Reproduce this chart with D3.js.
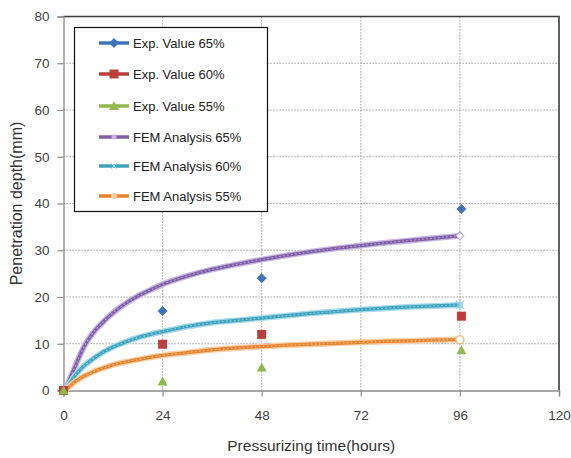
<!DOCTYPE html>
<html><head><meta charset="utf-8">
<script src="https://cdn.jsdelivr.net/npm/d3@7"></script>
<style>body{margin:0;background:#fff}svg{display:block}</style>
</head><body>
<script>
// ---- data ----
const xTicks = [0, 24, 48, 72, 96, 120];
const yTicks = [0, 10, 20, 30, 40, 50, 60, 70, 80];
const expTimes = [0, 24, 48, 96];
const exp65 = [0, 17, 24, 38.8];
const exp60 = [0, 9.9, 12, 15.9];
const exp55 = [0, 1.9, 4.9, 8.6];
const femTimes = [0, 0.5, 1, 2, 3, 4, 5, 6, 8, 10, 12, 15, 18, 21, 24, 30, 36, 42, 48, 54, 60, 66, 72, 78, 84, 90, 96];
const fem65 = [0, 0, 1.3, 3.5, 5.5, 7.6, 9.4, 10.9, 13.2, 15.0, 16.6, 18.6, 20.2, 21.5, 22.7, 24.5, 25.9, 27.0, 28.0, 28.9, 29.7, 30.4, 31.0, 31.6, 32.1, 32.6, 33.1];
const fem60 = [0, 0, 0.8, 2.2, 3.4, 4.4, 5.3, 6.0, 7.3, 8.4, 9.3, 10.4, 11.3, 12.0, 12.6, 13.7, 14.5, 15.0, 15.5, 16.0, 16.5, 16.9, 17.3, 17.6, 17.9, 18.1, 18.3];
const fem55 = [0, 0, 0.5, 1.3, 2.0, 2.6, 3.1, 3.5, 4.3, 4.9, 5.5, 6.1, 6.6, 7.1, 7.5, 8.1, 8.7, 9.1, 9.4, 9.7, 9.9, 10.1, 10.3, 10.5, 10.6, 10.8, 10.9];
const legendLabels = ["Exp. Value 65%", "Exp. Value 60%", "Exp. Value 55%", "FEM Analysis 65%", "FEM Analysis 60%", "FEM Analysis 55%"];

const W = 571, H = 458;
const svg = d3.select("body").append("svg").attr("width", W).attr("height", H);
const x = d3.scaleLinear().domain([0, 120]).range([63.5, 559]);
const y = d3.scaleLinear().domain([0, 80]).range([390.5, 16.5]);
const font = "'Liberation Sans', Arial, sans-serif";

// gridlines
svg.append("g").selectAll("line").data(yTicks.filter(d => d > 0 && d < 80)).join("line")
  .attr("x1", x(0)).attr("x2", x(120)).attr("y1", d => y(d)).attr("y2", d => y(d))
  .attr("stroke", "#8a8a8a").attr("stroke-width", 1).attr("stroke-dasharray", "1.2,1.8");
svg.append("g").selectAll("line").data(xTicks.filter(d => d > 0 && d < 120)).join("line")
  .attr("y1", y(0)).attr("y2", y(80)).attr("x1", d => x(d)).attr("x2", d => x(d))
  .attr("stroke", "#8a8a8a").attr("stroke-width", 1).attr("stroke-dasharray", "1.2,1.8");

// border top/right
svg.append("path").attr("d", `M${x(0)},${y(80)}H${x(120)}V${y(0)}`)
  .attr("fill", "none").attr("stroke", "#3a3a3a").attr("stroke-width", 1.6);

// axes
const xAxis = svg.append("g").attr("transform", `translate(0,${y(0)})`)
  .call(d3.axisBottom(x).tickValues(xTicks).tickSize(6).tickPadding(14));
const yAxis = svg.append("g").attr("transform", `translate(${x(0)},0)`)
  .call(d3.axisLeft(y).tickValues(yTicks).tickSize(6).tickPadding(8));
[xAxis, yAxis].forEach(a => {
  a.select(".domain").attr("stroke", "#8a8a8a").attr("stroke-width", 1.3);
  a.selectAll(".tick line").attr("stroke", "#8a8a8a").attr("stroke-width", 1.2);
  a.selectAll(".tick text").attr("fill", "#404040").style("font-family", font).style("font-size", "13.5px");
});

// axis titles
svg.append("text").attr("x", (x(0) + x(120)) / 2).attr("y", 451).attr("text-anchor", "middle")
  .style("font-family", font).style("font-size", "15.5px").attr("fill", "#333").text("Pressurizing time(hours)");
svg.append("text").attr("transform", `translate(22,${(y(0) + y(80)) / 2}) rotate(-90)`).attr("text-anchor", "middle")
  .style("font-family", font).style("font-size", "16px").attr("fill", "#333").text("Penetration depth(mm)");

// FEM curves
const fem = [
  {vals: fem65, color: "#7f5fa6", light: "#c9b6e0", end: "diamond"},
  {vals: fem60, color: "#3fa3bd", light: "#a6dcea", end: "star"},
  {vals: fem55, color: "#e8832e", light: "#f9cfa5", end: "circle"}
];
const line = d3.line().x(d => x(d[0])).y(d => y(d[1])).curve(d3.curveMonotoneX);
fem.forEach(s => {
  const pts = femTimes.map((t, i) => [t, s.vals[i]]);
  svg.append("path").attr("d", line(pts)).attr("fill", "none").attr("stroke", s.light).attr("stroke-width", 6).attr("stroke-linecap", "round");
  svg.append("path").attr("d", line(pts)).attr("fill", "none").attr("stroke", s.color).attr("stroke-width", 3.2);
  svg.append("path").attr("d", line(pts)).attr("fill", "none").attr("stroke", s.light).attr("stroke-width", 1.2).attr("stroke-dasharray", "1.5,2.5").attr("opacity", 0.8);
  const last = pts[pts.length - 1];
  drawMarker(svg, s.end, x(last[0]), y(last[1]), s.color, true);
});

function drawMarker(g, type, cx, cy, color, outline) {
  if (type === "diamond") {
    const sz = outline ? 4 : 5;
    g.append("path").attr("d", `M${cx},${cy - sz}L${cx + sz},${cy}L${cx},${cy + sz}L${cx - sz},${cy}Z`)
      .attr("fill", outline ? "#fff" : color).attr("stroke", outline ? d3.color(color).brighter(0.8) : "none").attr("stroke-width", 1);
  } else if (type === "square") {
    g.append("rect").attr("x", cx - 4.5).attr("y", cy - 4.5).attr("width", 9).attr("height", 9).attr("fill", color);
  } else if (type === "triangle") {
    g.append("path").attr("d", `M${cx},${cy - 5}L${cx + 5},${cy + 4}L${cx - 5},${cy + 4}Z`).attr("fill", color);
  } else if (type === "circle") {
    g.append("circle").attr("cx", cx).attr("cy", cy).attr("r", 4).attr("fill", "#fff").attr("stroke", "#f2b27a").attr("stroke-width", 1.2);
  } else if (type === "star") {
    g.append("path").attr("d", `M${cx - 4},${cy - 4}L${cx + 4},${cy + 4}M${cx + 4},${cy - 4}L${cx - 4},${cy + 4}M${cx},${cy - 5}V${cy + 5}`)
      .attr("stroke", "#8fd3e6").attr("stroke-width", 1.2);
  }
}

// Exp markers
const exps = [
  {vals: exp65, color: "#3f74b8", type: "diamond"},
  {vals: exp60, color: "#bd3d3a", type: "square"},
  {vals: exp55, color: "#93b84f", type: "triangle"}
];
exps.forEach(s => {
  expTimes.forEach((t, i) => drawMarker(svg, s.type, x(t) + (t === 96 ? 1.5 : 0), y(s.vals[i]), s.color, false));
});

// legend
const lg = svg.append("g");
lg.append("rect").attr("x", 74.5).attr("y", 27.5).attr("width", 193).attr("height", 184)
  .attr("fill", "#fff").attr("stroke", "#111").attr("stroke-width", 1.2);
const legendItems = [
  {color: "#3f74b8", type: "diamond"},
  {color: "#bd3d3a", type: "square"},
  {color: "#93b84f", type: "triangle"},
  {color: "#7f5fa6", type: "ldiamond"},
  {color: "#3fa3bd", type: "lstar"},
  {color: "#e8832e", type: "lcircle"}
];
const ly = [43, 74, 106, 137, 166, 196];
legendItems.forEach((it, i) => {
  const yy = ly[i];
  lg.append("line").attr("x1", 99).attr("x2", 129).attr("y1", yy).attr("y2", yy).attr("stroke", it.color).attr("stroke-width", 3.5);
  const cx = 114;
  if (it.type === "diamond") drawMarker(lg, "diamond", cx, yy, it.color, false);
  else if (it.type === "square") lg.append("rect").attr("x", cx - 4.5).attr("y", yy - 4.5).attr("width", 9).attr("height", 9).attr("fill", it.color);
  else if (it.type === "triangle") drawMarker(lg, "triangle", cx, yy, it.color, false);
  else if (it.type === "ldiamond") lg.append("path").attr("d", `M${cx},${yy - 3}L${cx + 3},${yy}L${cx},${yy + 3}L${cx - 3},${yy}Z`).attr("fill", "#c9b6e0");
  else if (it.type === "lstar") lg.append("path").attr("d", `M${cx - 3},${yy - 3}L${cx + 3},${yy + 3}M${cx + 3},${yy - 3}L${cx - 3},${yy + 3}`).attr("stroke", "#a6dcea").attr("stroke-width", 1);
  else if (it.type === "lcircle") lg.append("circle").attr("cx", cx).attr("cy", yy).attr("r", 3).attr("fill", "#f9cfa5");
  lg.append("text").attr("x", 133).attr("y", yy + 4.5).style("font-family", font).style("font-size", "13px")
    .attr("fill", "#222").text(legendLabels[i]);
});
</script>
</body></html>
